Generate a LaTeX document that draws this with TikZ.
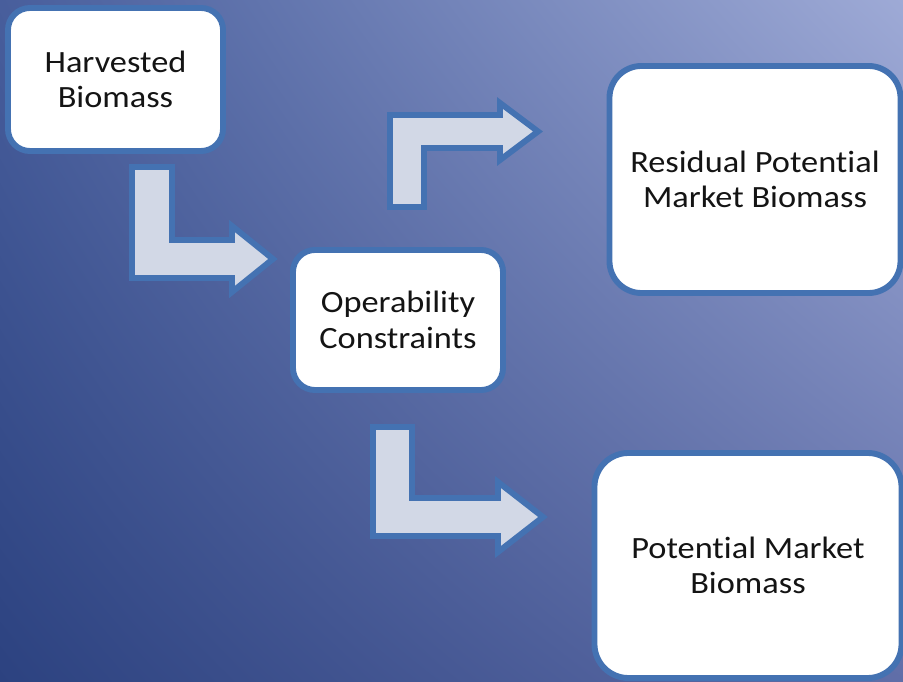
\documentclass[tikz,border=0pt]{standalone}
\usepackage{fontspec}
\usetikzlibrary{shadings}
\setmainfont{Carlito}[FakeStretch=1.11, Ligatures={NoCommon}]
\definecolor{bordblue}{RGB}{68,114,178}
\definecolor{arrfill}{RGB}{210,216,230}
\definecolor{bgUL}{RGB}{72,94,156}
\definecolor{bgUR}{RGB}{158,170,214}
\definecolor{bgLL}{RGB}{44,66,128}
\definecolor{bgLR}{RGB}{96,110,168}
\definecolor{txt}{RGB}{20,20,20}
\tikzset{
  box/.style={draw=bordblue, fill=white, line width=4.2pt, rounded corners=#1,
    align=center, text=txt, font=\fontsize{22}{25.2}\selectfont, inner sep=0pt},
  blockarrow/.style={draw=bordblue, fill=arrfill, line width=4.2pt, line join=miter}
}
\begin{document}
\begin{tikzpicture}[x=0.025cm, y=-0.025cm]
\useasboundingbox (0,0) rectangle (903,682);
\shade[upper left=bgUL, upper right=bgUR, lower left=bgLL, lower right=bgLR] (0,0) rectangle (903,682);
% boxes
\node[box=0.55cm, minimum width=5.375cm, minimum height=3.575cm] (harv) at (115.5,79.5) {Harvested\\Biomass};
\node[box=0.55cm, minimum width=5.25cm, minimum height=3.5cm] (oper) at (398,320) {Operability\\Constraints};
\node[box=0.8cm, minimum width=7.275cm, minimum height=5.675cm] (resid) at (755,179.5) {Residual Potential\\Market Biomass};
\node[box=0.85cm, minimum width=7.675cm, minimum height=5.625cm] (pot) at (748,565.5) {Potential Market\\Biomass};
% block arrows
\draw[blockarrow] (132,167) -- (172,167) -- (172,240) -- (232,240) -- (232,226) -- (273,259) -- (232,292) -- (232,278) -- (132,278) -- cycle;
\draw[blockarrow] (390,207) -- (390,115) -- (500,115) -- (500,103) -- (538,131.5) -- (500,160) -- (500,148) -- (424,148) -- (424,207) -- cycle;
\draw[blockarrow] (373,427) -- (412,427) -- (412,498) -- (498,498) -- (498,482) -- (543,517) -- (498,552) -- (498,536) -- (373,536) -- cycle;
\end{tikzpicture}
\end{document}
